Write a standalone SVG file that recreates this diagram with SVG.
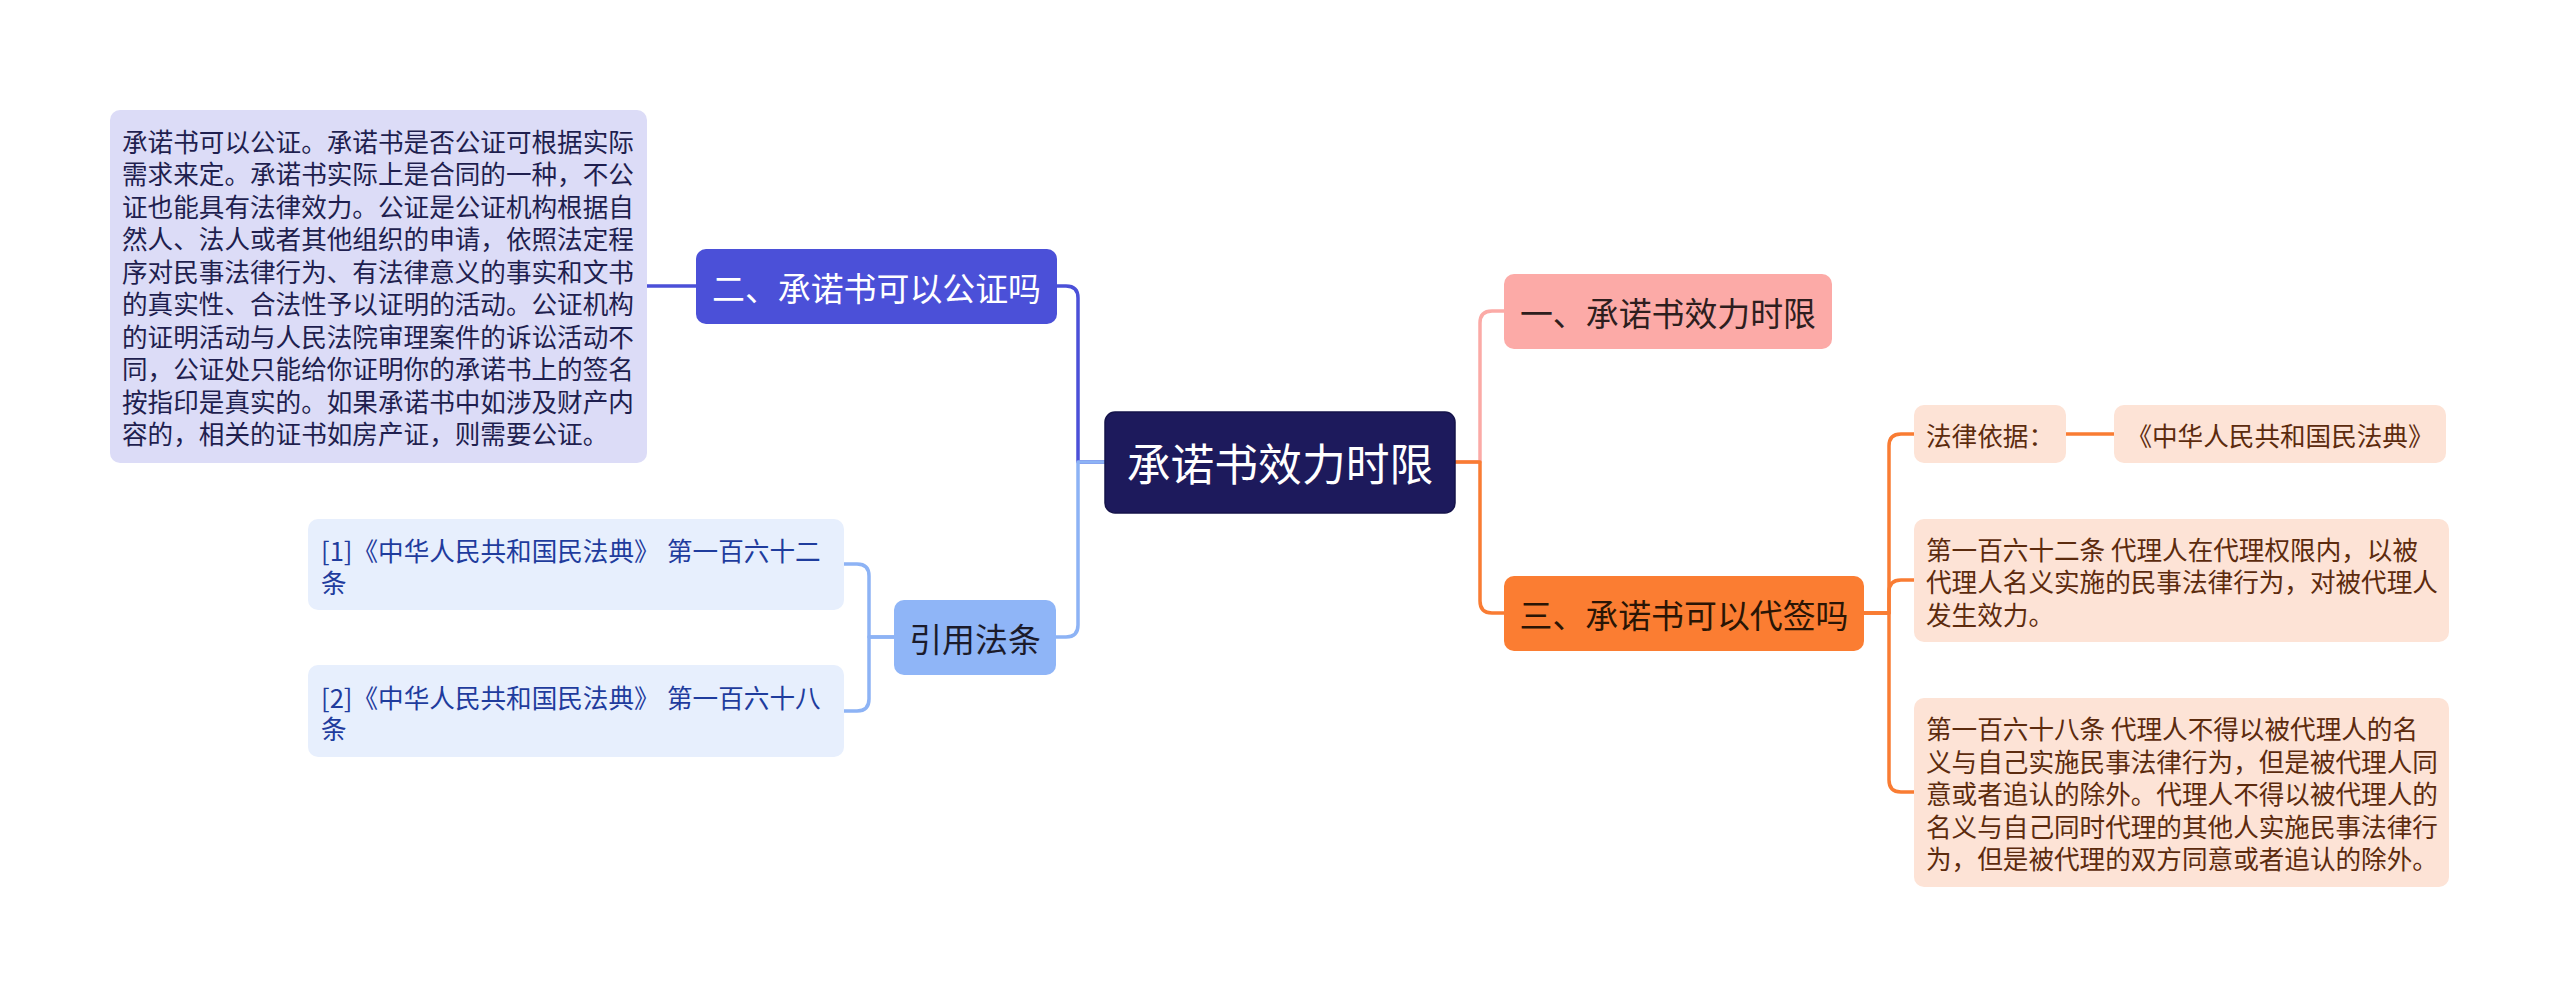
<svg xmlns="http://www.w3.org/2000/svg" width="2560" height="997" viewBox="0 0 2560 997">
<style>
text{font-family:"Noto Sans CJK SC","Noto Sans",sans-serif;}
.leaf{font-size:25.6px;dominant-baseline:central;}
.br{font-size:32.9px;dominant-baseline:central;text-anchor:middle;}
.root{font-size:43.8px;dominant-baseline:central;text-anchor:middle;fill:#ffffff;}
.c{fill:none;stroke-width:3.5;stroke-linecap:round;stroke-linejoin:round;}
.lav{fill:#dcdcf7;}
.lavt{fill:#1f1f4f;}
.cit{fill:#e7effd;}
.citt{fill:#1f3c9d;}
.pch{fill:#fde3d6;}
.pcht{fill:#5c2b0e;}
</style>
<rect width="2560" height="997" fill="#ffffff"/>
<g id="connectors">
<path class="c" stroke="#4b50d8" d="M1105 462 H1078 V298 Q1078 286 1066 286 H1057"/>
<path class="c" stroke="#8db3f5" d="M1105 462 H1078 V625 Q1078 637 1066 637 H1056"/>
<path class="c" stroke="#4b50d8" d="M696 286 H647"/>
<path class="c" stroke="#8db3f5" d="M894 637 H869 V576 Q869 564 857 564 H844"/>
<path class="c" stroke="#8db3f5" d="M894 637 H869 V699 Q869 711 857 711 H844"/>
<path class="c" stroke="#fbaaa6" d="M1455 462 H1480 V323 Q1480 311 1492 311 H1504"/>
<path class="c" stroke="#f97c33" d="M1455 462 H1480 V601 Q1480 613 1492 613 H1504"/>
<path class="c" stroke="#f97c33" d="M1864 613 H1889 V446 Q1889 434 1901 434 H1914"/>
<path class="c" stroke="#f97c33" d="M1864 613 H1889 V592 Q1889 580 1901 580 H1914"/>
<path class="c" stroke="#f97c33" d="M1864 613 H1889 V780 Q1889 792 1901 792 H1914"/>
<path class="c" stroke="#f97c33" d="M2066 434 H2114"/>
</g>
<g id="root">
<rect x="1105" y="412" width="350" height="101" rx="10" fill="#1d1a5c" stroke="#15134a" stroke-width="1.5"/>
<text class="root" x="1280" y="462">承诺书效力时限</text>
</g>
<g id="n1">
<rect x="1504" y="274" width="328" height="75" rx="10" fill="#fcaaa7"/>
<text class="br" x="1668" y="311.5" fill="#2e1e1e">一、承诺书效力时限</text>
</g>
<g id="n3">
<rect x="1504" y="576" width="360" height="75" rx="10" fill="#fb7d32"/>
<text class="br" x="1684" y="613.5" fill="#2a1505">三、承诺书可以代签吗</text>
</g>
<g id="n2">
<rect x="696" y="249" width="361" height="75" rx="10" fill="#4b50d8"/>
<text class="br" x="876.5" y="286.5" fill="#ffffff">二、承诺书可以公证吗</text>
</g>
<g id="n4">
<rect x="894" y="600" width="162" height="75" rx="10" fill="#8fb5f7"/>
<text class="br" x="975" y="637.5" fill="#1b1b2b">引用法条</text>
</g>
<g id="n2-text">
<rect class="lav" x="110" y="110" width="537" height="353" rx="10"/>
<text class="leaf lavt" x="122" y="140.25">承诺书可以公证。承诺书是否公证可根据实际</text>
<text class="leaf lavt" x="122" y="172.75">需求来定。承诺书实际上是合同的一种，不公</text>
<text class="leaf lavt" x="122" y="205.25">证也能具有法律效力。公证是公证机构根据自</text>
<text class="leaf lavt" x="122" y="237.75">然人、法人或者其他组织的申请，依照法定程</text>
<text class="leaf lavt" x="122" y="270.25">序对民事法律行为、有法律意义的事实和文书</text>
<text class="leaf lavt" x="122" y="302.75">的真实性、合法性予以证明的活动。公证机构</text>
<text class="leaf lavt" x="122" y="335.25">的证明活动与人民法院审理案件的诉讼活动不</text>
<text class="leaf lavt" x="122" y="367.75">同，公证处只能给你证明你的承诺书上的签名</text>
<text class="leaf lavt" x="122" y="400.25">按指印是真实的。如果承诺书中如涉及财产内</text>
<text class="leaf lavt" x="122" y="432.75">容的，相关的证书如房产证，则需要公证。</text>
</g>
<g id="cite1">
<rect class="cit" x="308" y="519" width="536" height="91" rx="10"/>
<text class="leaf citt" x="321" y="549"><tspan>[1]《中华人民共和国民法典》 </tspan><tspan x="667">第一百六十二</tspan></text>
<text class="leaf citt" x="321" y="581">条</text>
</g>
<g id="cite2">
<rect class="cit" x="308" y="665" width="536" height="92" rx="10"/>
<text class="leaf citt" x="321" y="695.5"><tspan>[2]《中华人民共和国民法典》 </tspan><tspan x="667">第一百六十八</tspan></text>
<text class="leaf citt" x="321" y="727.5">条</text>
</g>
<g id="basis">
<rect class="pch" x="1914" y="405" width="152" height="58" rx="10"/>
<text class="leaf pcht" x="1926" y="434">法律依据：</text>
</g>
<g id="code">
<rect class="pch" x="2114" y="405" width="332" height="58" rx="10"/>
<text class="leaf pcht" x="2280" y="434" text-anchor="middle">《中华人民共和国民法典》</text>
</g>
<g id="art162">
<rect class="pch" x="1914" y="519" width="535" height="123" rx="10"/>
<text class="leaf pcht" x="1926" y="548">第一百六十二条 代理人在代理权限内，以被</text>
<text class="leaf pcht" x="1926" y="580.5">代理人名义实施的民事法律行为，对被代理人</text>
<text class="leaf pcht" x="1926" y="613">发生效力。</text>
</g>
<g id="art168">
<rect class="pch" x="1914" y="698" width="535" height="189" rx="10"/>
<text class="leaf pcht" x="1926" y="727.5">第一百六十八条 代理人不得以被代理人的名</text>
<text class="leaf pcht" x="1926" y="760">义与自己实施民事法律行为，但是被代理人同</text>
<text class="leaf pcht" x="1926" y="792.5">意或者追认的除外。代理人不得以被代理人的</text>
<text class="leaf pcht" x="1926" y="825">名义与自己同时代理的其他人实施民事法律行</text>
<text class="leaf pcht" x="1926" y="857.5">为，但是被代理的双方同意或者追认的除外。</text>
</g>
</svg>
